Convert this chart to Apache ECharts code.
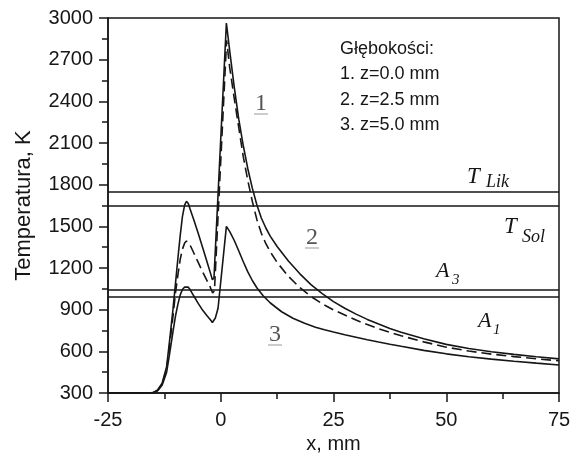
<!DOCTYPE html>
<html>
<head>
<meta charset="utf-8">
<script src="https://cdn.jsdelivr.net/npm/echarts@6/dist/echarts.min.js"></script>
<style>html,body{margin:0;padding:0;background:#fff}#c{width:578px;height:458px}</style>
</head>
<body>
<div id="c"></div>
<script>
// ---- data ----
const xTickLabels = ['-25', '0', '25', '50', '75'];
const yTickLabels = ['300', '600', '900', '1200', '1500', '1800', '2100', '2400', '2700', '3000'];

const curve1X = [-25,-16,-15,-14,-13,-12,-11.3,-10.6,-10,-9.5,-9,-8.5,-8,-7.6,-7.2,-6.8,-6,-5,-4,-3,-2.3,-1.85,-1.5,1.25,2,3,4,5,6,7,8,9,10,11,12.5,15,17.5,20,22.5,25,27.5,30,32.5,35,37.5,40,45,50,55,60,65,70,75];
const curve1T = [300,300,303,322,370,490,690,900,1100,1270,1430,1570,1655,1680,1665,1625,1550,1450,1345,1240,1165,1115,1130,2964,2760,2500,2270,2080,1915,1775,1655,1560,1488,1428,1355,1250,1160,1080,1015,958,910,868,830,797,765,737,690,650,620,597,578,561,546];

const curve2X = [-25,-16,-15,-14,-13,-12,-11.3,-10.6,-10,-9.5,-9,-8.5,-8,-7.6,-7.2,-6.8,-6,-5,-4,-3,-2.3,-1.8,-1.4,1.3,2,3,4,5,6,7,8,9,10,11,12.5,15,17.5,20,22.5,25,27.5,30,32.5,35,37.5,40,45,50,55,60,65,70,75];
const curve2T = [300,300,302,318,362,475,650,850,1030,1150,1260,1335,1380,1395,1388,1365,1310,1240,1170,1105,1060,1020,1035,2840,2640,2420,2210,2000,1830,1680,1550,1450,1375,1315,1240,1140,1060,995,942,898,862,825,793,763,737,712,668,630,602,580,562,546,532];

const curve3X = [-25,-16,-15,-14,-13,-12,-11.3,-10.6,-10,-9.5,-9,-8.5,-8,-7.6,-7.2,-6.8,-6,-5,-4,-3,-2.3,-1.85,-1.2,-0.6,1.25,2,3,4,5,6,7,8,9.4,11,13.5,16,18.6,21,23,25,27.5,30,32.5,35,37.5,40,45,50,55,60,65,70,75];
const curve3T = [300,300,302,316,355,450,590,740,860,940,1005,1045,1063,1067,1062,1045,1000,945,895,855,828,808,840,910,1500,1462,1398,1322,1245,1172,1110,1058,1000,948,885,838,802,774,755,739,720,702,684,667,651,636,607,582,561,544,529,515,502];

const thresholdValues = [1750, 1650, 1045, 995]; // T_Lik, T_Sol, A3, A1
const legendLines = ['Głębokości:', '1. z=0.0 mm', '2. z=2.5 mm', '3. z=5.0 mm'];
const curveLabels = ['1', '2', '3'];

// ---- chart ----
const zip = (xs, ys) => xs.map((x, i) => [x, ys[i]]);
const INK = '#161616';
const SANS = '"Liberation Sans", Arial, sans-serif';
const SERIF = '"Liberation Serif", "Times New Roman", serif';

function tickFmt(labels, min, step) {
  return v => { const i = Math.round((v - min) / step); return labels[i] !== undefined ? labels[i] : ''; };
}

const chart = echarts.init(document.getElementById('c'), null, {renderer: 'canvas'});

const lineBase = {type: 'line', showSymbol: false, symbol: 'none', silent: true, z: 3};

const graphic = [];
const legendY = [49, 74.5, 100, 125.5];
legendLines.forEach((t, i) => graphic.push({
  type: 'text', x: 340, y: legendY[i], silent: true,
  style: {text: t, font: '18px ' + SANS, fill: INK, align: 'left', verticalAlign: 'middle', textAlign: 'left', textVerticalAlign: 'middle'}
}));
function addLabel(main, sub, x, y, subX, subY, mainSize, subSize) {
  graphic.push({type: 'text', x: x, y: y, silent: true,
    style: {text: main, font: 'italic ' + mainSize + 'px ' + SERIF, fill: INK, align: 'left', verticalAlign: 'bottom', textAlign: 'left', textVerticalAlign: 'bottom'}});
  graphic.push({type: 'text', x: subX, y: subY, silent: true,
    style: {text: sub, font: 'italic ' + subSize + 'px ' + SERIF, fill: INK, align: 'left', verticalAlign: 'bottom', textAlign: 'left', textVerticalAlign: 'bottom'}});
}
addLabel('T', 'Lik', 467, 188, 486, 191, 23, 18);
addLabel('T', 'Sol', 504, 238, 522, 246, 23, 18);
addLabel('A', '3', 436, 282, 452, 288, 22, 15);
addLabel('A', '1', 478, 332, 493, 338, 22, 15);
const cl = [[261, 104], [312, 238], [275, 335]];
curveLabels.forEach((t, i) => {
  graphic.push({type: 'text', x: cl[i][0], y: cl[i][1], silent: true,
    style: {text: t, font: '24px ' + SERIF, fill: '#555', align: 'center', verticalAlign: 'middle', textAlign: 'center', textVerticalAlign: 'middle'}});
  graphic.push({type: 'line', silent: true,
    shape: {x1: cl[i][0] - 7, y1: cl[i][1] + 10, x2: cl[i][0] + 7, y2: cl[i][1] + 10},
    style: {stroke: '#999', lineWidth: 1}});
});

const option = {
  animation: false,
  backgroundColor: '#fff',
  grid: {left: 108, right: 19, top: 18, bottom: 65, show: true, borderColor: INK, borderWidth: 1.5,
         backgroundColor: 'transparent', containLabel: false, outerBoundsMode: 'none'},
  xAxis: {
    type: 'value', min: -25, max: 75, interval: 25,
    axisLine: {show: true, onZero: false, lineStyle: {color: INK, width: 1.5}},
    axisTick: {show: true, inside: false, length: 9, lineStyle: {color: INK, width: 1.5}},
    minorTick: {show: true, splitNumber: 2, length: 6, lineStyle: {color: INK, width: 1.5}},
    splitLine: {show: false},
    axisLabel: {fontSize: 20, fontFamily: SANS, color: INK, margin: 17, formatter: tickFmt(xTickLabels, -25, 25)},
    name: 'x, mm', nameLocation: 'middle', nameGap: 39,
    nameTextStyle: {fontSize: 20, fontFamily: SANS, color: INK}
  },
  yAxis: {
    type: 'value', min: 300, max: 3000, interval: 300,
    axisLine: {show: true, onZero: false, lineStyle: {color: INK, width: 1.5}},
    axisTick: {show: true, inside: false, length: 9, lineStyle: {color: INK, width: 1.5}},
    minorTick: {show: true, splitNumber: 2, length: 6, lineStyle: {color: INK, width: 1.5}},
    splitLine: {show: false},
    axisLabel: {fontSize: 20, fontFamily: SANS, color: INK, margin: 15, formatter: tickFmt(yTickLabels, 300, 300)},
    name: 'Temperatura, K', nameLocation: 'middle', nameGap: 73, nameRotate: 90,
    nameTextStyle: {fontSize: 22, fontFamily: SANS, color: INK}
  },
  graphic: graphic,
  series: [
    Object.assign({}, lineBase, {
      name: 'z=0.0 mm', data: zip(curve1X, curve1T),
      lineStyle: {color: INK, width: 1.6, type: 'solid'},
      markLine: {
        silent: true, symbol: ['none', 'none'], label: {show: false},
        lineStyle: {color: INK, width: 1.5, type: 'solid'},
        data: thresholdValues.map(v => ({yAxis: v}))
      }
    }),
    Object.assign({}, lineBase, {
      name: 'z=2.5 mm', data: zip(curve2X, curve2T),
      lineStyle: {color: INK, width: 1.6, type: [10, 5]}
    }),
    Object.assign({}, lineBase, {
      name: 'z=5.0 mm', data: zip(curve3X, curve3T),
      lineStyle: {color: INK, width: 1.6, type: 'solid'}
    })
  ]
};
chart.setOption(option);
</script>
</body>
</html>
